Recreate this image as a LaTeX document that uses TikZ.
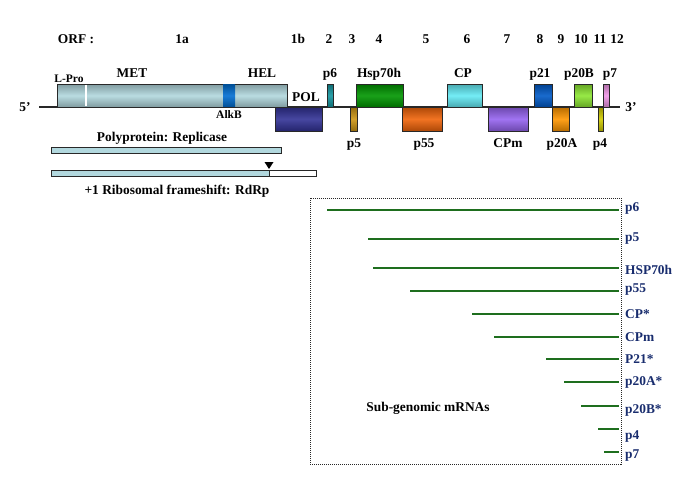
\documentclass[tikz,border=0pt]{standalone}
\usepackage{fontspec}
\setmainfont{Liberation Serif}
\usetikzlibrary{arrows.meta,positioning,shapes.geometric}
\definecolor{rep}{RGB}{178,216,222}
\definecolor{alkb}{RGB}{0,110,210}
\definecolor{polblue}{RGB}{50,50,150}
\definecolor{teal6}{RGB}{20,150,160}
\definecolor{gold5}{RGB}{205,150,20}
\definecolor{hsp}{RGB}{0,150,0}
\definecolor{rust}{RGB}{240,100,10}
\definecolor{cpcyan}{RGB}{100,235,245}
\definecolor{cpm}{RGB}{150,100,240}
\definecolor{blue21}{RGB}{0,90,200}
\definecolor{orange20}{RGB}{255,150,0}
\definecolor{lime20}{RGB}{140,230,50}
\definecolor{olive4}{RGB}{210,205,0}
\definecolor{pink7}{RGB}{240,150,230}
\definecolor{navy}{RGB}{25,45,110}
\definecolor{mgreen}{RGB}{30,110,30}
\definecolor{ink}{RGB}{40,40,40}
\tikzset{
  gene/.style={top color=#1!72!black,bottom color=#1!72!black,middle color=#1!90!white,
    draw=ink,line width=0.7pt},
  gene/.default=rep,
  lbl/.style={font=\fontsize{13.4}{15}\selectfont\bfseries,inner sep=0pt,anchor=base},
  small lbl/.style={lbl,font=\fontsize{11.5}{13}\selectfont\bfseries},
  genome/.style={draw=ink,line width=1.2pt},
  bar/.style={draw=ink,fill=#1,line width=0.6pt},
  bar/.default=rep,
  mrna/.style={draw=mgreen,line width=2pt},
  sg/.style={lbl,text=navy,anchor=base west},
}

\begin{document}
\begin{tikzpicture}[x=1pt,y=-1pt]
  \useasboundingbox (0,0) rectangle (685,485);
  % genome
  \coordinate (g5) at (39,107);
  \coordinate (g3) at (620,107);
  \draw[genome] (g5) -- (g3);
  \node[lbl] (five) at (25,111.5) {5’};
  \node[lbl] (three) at (631,111.5) {3’};
  \node[lbl] (orf) at (76,43.5) {ORF :};
  \foreach \n/\x in {1a/182,1b/298,2/329,3/352,4/379,5/426,6/467,7/507,8/540,9/561,10/581,11/600,12/617}
    \node[lbl] (orf\n) at (\x,43.5) {\n};
  % ORF 1a
  \path[gene] (57,84) rectangle (287,107);
  \draw[white,line width=1.6pt] (86,84.6) -- (86,106.4);
  \path[gene=alkb,draw=none] (223,84.4) rectangle (235,106.6);
  \node[small lbl] (lpro) at (69,82) {L-Pro};
  \node[lbl] (met) at (132,77.5) {MET};
  \node[lbl] (hel) at (262,77.5) {HEL};
  \node[small lbl] (alkbl) at (229,118) {AlkB};
  \path[gene=polblue] (275,107) rectangle (322,131);
  \node[lbl] (pol) at (306,101.5) {POL};
  \foreach \nm/\xa/\xb/\c/\lx in {p6/327/333/teal6/330,Hsp70h/356/403/hsp/379,CP/447/482/cpcyan/463,
      p21/534/552/blue21/540,p20B/574/592/lime20/579,p7/603/609/pink7/610}
  {
    \path[gene=\c] (\xa,84) rectangle (\xb,107);
    \node[lbl] (t-\nm) at (\lx,77.5) {\nm};
  }
  \foreach \nm/\xa/\xb/\c/\lx in {p5/350/357/gold5/354,p55/402/442/rust/424,CPm/488/528/cpm/508,
      p20A/552/569/orange20/562,p4/598/603/olive4/600}
  {
    \path[gene=\c] (\xa,107) rectangle (\xb,131);
    \node[lbl] (b-\nm) at (\lx,147.5) {\nm};
  }
  % translation products
  \draw[bar] (51,147) rectangle (281,153);
  \node[lbl] (poly) at (162,141.5) {Polyprotein: Replicase};
  \draw[bar=white] (51,170) rectangle (316,176);
  \draw[bar] (51,170) rectangle (269,176);
  \coordinate (fs) at (269,169);
  \fill[black] (fs) -- ++(-4.5,-7) -- ++(9,0) -- cycle;
  \node[lbl] (rdrp) at (177,194.5) {+1 Ribosomal frameshift: RdRp};
  % sub-genomic RNAs
  \draw[ink,line width=0.8pt,dash pattern=on 1pt off 1pt] (310,198) rectangle (621,464);
  \foreach \nm/\xs/\y/\ly [count=\i] in {p6/327/210/207,p5/368/239/237,HSP70h/373/268/270,p55/410/291/288,
      CP*/472/314/314,CPm/494/337/337,P21*/546/359/359,p20A*/564/382/381,p20B*/581/406/409,
      p4/598/429/435,p7/604/452/454}
  {
    \draw[mrna] (\xs,\y) -- (619,\y);
    \node[sg] (m\i) at (625,\ly+4.5) {\nm};
  }
  \node[lbl] (sgtitle) at (428,411.5) {Sub-genomic mRNAs};
\end{tikzpicture}
\end{document}
